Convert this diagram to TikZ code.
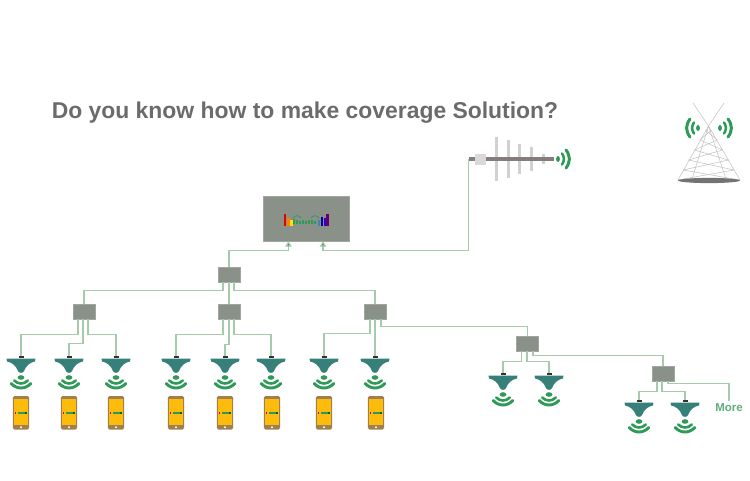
\documentclass[tikz,border=0pt]{standalone}
\usepackage{fontspec}
\setmainfont{Liberation Sans}
\usetikzlibrary{calc,arrows.meta}
\definecolor{feedgreen}{HTML}{A6CBAC}
\definecolor{boxgray}{HTML}{8A9188}
\definecolor{teal}{HTML}{37807A}
\definecolor{wavegreen}{HTML}{2F9A58}
\definecolor{phonegold}{HTML}{FDBB0C}
\definecolor{phonerim}{HTML}{A08050}
\definecolor{boomgray}{HTML}{857C7C}
\tikzset{
  feed/.style={draw=feedgreen, line width=1.3pt},
  feedtip/.style={{Triangle[length=5.5pt,width=6.5pt,fill=wavegreen!75!black]}-},
  splitter/.style={draw=boxgray!80, fill=boxgray, minimum width=22pt, minimum height=15pt, inner sep=0pt},
  capbox/.style={fill=black!80, minimum width=5pt, minimum height=2pt, inner sep=0pt},
  wave/.style={draw=wavegreen, line cap=round},
  pics/ceiling/.style={code={
    \fill[teal] (-14.5,1.5) -- (14.5,1.5) -- (14,4.5) .. controls (8.5,5.5) and (5,9) .. (3,14) .. controls (1.5,16.5) and (-1.5,16.5) .. (-3,14) .. controls (-5,9) and (-8.5,5.5) .. (-14,4.5) -- cycle;
    \fill[wavegreen] (0,20.5) ellipse (3.4pt and 2.3pt);
    \draw[wave, line width=2.6pt] (-6.8,23.5) .. controls (-3,27.5) and (3,27.5) .. (6.8,23.5);
    \draw[wave, line width=2.9pt] (-9.8,26.5) .. controls (-4.5,32.5) and (4.5,32.5) .. (9.8,26.5);
  }},
  pics/handset/.style={code={
    \fill[phonerim, rounded corners=1.5pt] (-8.2,0) rectangle (8.2,33.5);
    \fill[phonegold] (-7,3.2) rectangle (7,28.8);
    \fill[white] (0,31.2) circle (1.1pt);
    \fill[red!80!black] (-6.5,15.5) rectangle (-4.8,18);
    \draw[wavegreen, line width=1.3pt] (-3,17) -- (3.5,17);
    \fill[black!60!green] (4.2,15.5) rectangle (6.2,18);
  }},
  pics/signal/.style={code={
    \fill[wavegreen] (0,0) ellipse (1.9pt and 3pt);
    \draw[wave, line width=2.5pt] (4,-5.5) .. controls (6.5,-2) and (6.5,2) .. (4,5.5);
    \draw[wave, line width=3pt] (8,-9) .. controls (12.5,-3) and (12.5,3) .. (8,9);
  }}
}

\begin{document}
\begin{tikzpicture}[x=1pt, y=-1pt]
  \useasboundingbox (0,0) rectangle (750,480);

  % Heading
  \node[font=\bfseries\fontsize{22.9}{26}\selectfont, text=black!58, inner sep=0pt] (heading) at (305,112.5) {Do you know how to make coverage Solution?};

  % Repeater with its logo
  \node[fill=boxgray, draw=boxgray!80, minimum width=86pt, minimum height=45pt, inner sep=0pt] (repeater) at (306,218.5) {};
  \foreach \x/\h/\c in {285/12/red!90!black, 288.5/8/orange, 291.5/6/yellow!85!orange, 319/6/cyan!60!black, 322/9/blue!70!black, 325/8/blue!60!violet, 327.5/12/violet!80!black}
    \fill[\c] (\x-1.3,225.5) rectangle (\x+1.3,225.5-\h);
  \foreach \x/\h in {294/5, 297/4, 300/3, 303/4, 306/3, 309/4, 312/4, 315/3}
    \draw[wavegreen, line width=2pt] (\x,224) -- (\x,224-\h);
  \draw[wavegreen, line width=0.8pt] (293,218) .. controls (295,215) and (299,215) .. (301,218);
  \draw[wavegreen, line width=0.8pt] (311,218) .. controls (313,215) and (317,215) .. (319,218);

  % Splitters
  \foreach \n/\x/\y in {s0/229/274.5, s1/84/311.5, s2/229/311.5, s3/375/311.5, s4/527.5/343.5, s5/663/373.5}
    \node[splitter] (\n) at (\x,\y) {};

  % Ceiling antennas
  \foreach \n/\x/\y in {a1/21/357, a2/69/357, a3/116/357, a4/176/357, a5/225/357, a6/271/357, a7/324/357, a8/375/357, a9/503/374, a10/549/374, a11/639/401, a12/685/401} {
    \pic at (\x,\y) {ceiling};
    \node[capbox] (\n) at (\x,\y) {};
  }

  % Phones
  \foreach \x in {21,69,116,176,225,272,324,376}
    \pic at (\x,396) {handset};

  % Donor antenna
  \foreach \x/\a/\b in {496/137/181, 508/140/178, 519.5/144/174, 531/147/171, 543/154/164}
    \draw[black!18, line width=3pt] (\x,\a) -- (\x,\b);
  \coordinate (tail) at (468.5,159);
  \node[fill=boomgray, minimum width=85pt, minimum height=4.5pt, inner sep=0pt] (boom) at (511,159) {};
  \node[fill=black!15, minimum width=11pt, minimum height=11pt, inner sep=0pt] (block) at (480.5,159) {};
  \pic at (558,159) {signal};

  % Tower
  \begin{scope}[black!25, line width=0.5pt]
    \draw (693,103) -- (708.5,126) -- (740,180);
    \draw (724,103) -- (708.5,126) -- (678,180);
    \draw (708.5,126) -- (692,179) (708.5,126) -- (726,179);
    \foreach \y/\w/\v in {130/3/8.6, 140/8.5/14, 150/14/20, 160/20/25.4, 170/25.4/31} {
      \draw (708.5-\w,\y) -- (708.5+\v,\y+10);
      \draw (708.5+\w,\y) -- (708.5-\v,\y+10);
    }
  \end{scope}
  \fill[black!55] (709,180.5) ellipse (31pt and 2.6pt);
  \pic at (720,128) {signal};
  \pic[xscale=-1] at (698,128) {signal};

  % Feed lines
  \draw[feed, feedtip] ($(repeater.south)+(-17.5,0)$) -- ++(0,9.5) -| (s0.north);
  \draw[feed, feedtip] ($(repeater.south)+(17,0)$) -- ++(0,9.5) -| (tail);
  \draw[feed] ($(s0.south)+(-6,0)$) -- ++(0,8) -| (s1.north);
  \draw[feed] (s0.south) -- (s2.north);
  \draw[feed] ($(s0.south)+(5,0)$) -- ++(0,8) -| (s3.north);

  \draw[feed] ($(s1.south)+(-6,0)$) -- ++(0,15) -| (a1.north);
  \draw[feed] ($(s1.south)+(-1,0)$) -- ++(0,24) -| (a2.north);
  \draw[feed] ($(s1.south)+(4,0)$) -- ++(0,15) -| (a3.north);
  \draw[feed] ($(s2.south)+(-6,0)$) -- ++(0,15) -| (a4.north);
  \draw[feed] ($(s2.south)+(0,0)$) -- ++(0,25) -| (a5.north);
  \draw[feed] ($(s2.south)+(5,0)$) -- ++(0,15) -| (a6.north);
  \draw[feed] ($(s3.south)+(-5,0)$) -- ++(0,14) -| (a7.north);
  \draw[feed] (s3.south) -- (a8.north);
  \draw[feed] ($(s3.south)+(6,0)$) -- ++(0,7) -| (s4.north);

  \draw[feed] ($(s4.south)+(-6,0)$) -- ++(0,10) -| (a9.north);
  \draw[feed] ($(s4.south)+(-0.5,0)$) -- ++(0,10) -| (a10.north);
  \draw[feed] ($(s4.south)+(5.5,0)$) -- ++(0,4) -| (s5.north);

  \draw[feed] ($(s5.south)+(-6,0)$) -- ++(0,10) -| (a11.north);
  \draw[feed] ($(s5.south)+(-1,0)$) -- ++(0,10) -| (a12.north);
  \node[font=\bfseries\fontsize{11.5}{13}\selectfont, text=wavegreen!60!feedgreen, inner sep=0pt] (more) at (729,408) {More};
  \draw[feed, shorten >=3pt] ($(s5.south)+(5,0)$) -- ++(0,2.5) -| (more.north);
\end{tikzpicture}
\end{document}
